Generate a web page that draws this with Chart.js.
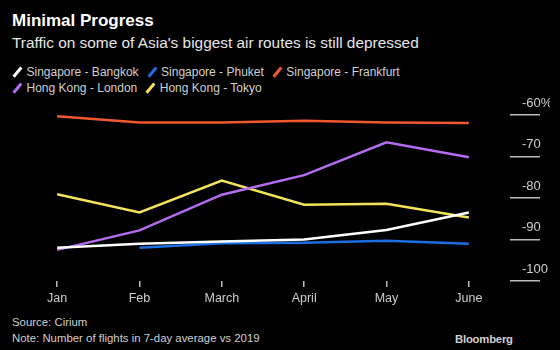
<!DOCTYPE html>
<html>
<head>
<meta charset="utf-8">
<script src="https://cdn.jsdelivr.net/npm/chart.js@4/dist/chart.umd.min.js"></script>
<style>
  html, body { margin: 0; padding: 0; background: #000; }
  body { width: 560px; height: 350px; position: relative; overflow: hidden; font-family: "Liberation Sans", Arial, sans-serif; color: #d0d0d0; }
  .title { position: absolute; left: 12px; top: 11px; font-size: 17px; font-weight: bold; color: #fff; }
  .subtitle { position: absolute; left: 12px; top: 34px; font-size: 15.4px; color: #e6e6e6; }
  .legend { position: absolute; left: 12px; top: 64px; font-size: 12px; line-height: 16px; width: 440px; }
  .legend span.item { display: inline-block; margin-right: 8px; white-space: nowrap; }
  .legend i { display: inline-block; width: 2.5px; height: 12px; margin: 0 8px 0 4px; transform: rotate(40deg); vertical-align: -2px; }
  .source { position: absolute; left: 12px; top: 314px; font-size: 11.4px; line-height: 16px; color: #cfcfcf; }
  .brand { position: absolute; left: 455px; top: 333px; font-size: 11.3px; font-weight: bold; letter-spacing: -0.2px; color: #cfcfcf; }
  #wrap { position: absolute; left: 0; top: 95px; width: 560px; height: 218px; }
</style>
</head>
<body>
<div class="title">Minimal Progress</div>
<div class="subtitle">Traffic on some of Asia's biggest air routes is still depressed</div>
<div class="legend" id="legend"></div>
<div id="wrap"><canvas id="chart"></canvas></div>
<div class="source">Source: Cirium<br>Note: Number of flights in 7-day average vs 2019</div>
<div class="brand">Bloomberg</div>
<script>
const months = ['Jan', 'Feb', 'March', 'April', 'May', 'June'];
const sgBangkok = [-92.0, -91.0, -90.5, -90.0, -87.7, -83.5];
const sgPhuket = [null, -92.0, -90.9, -90.8, -90.3, -91.0];
const sgFrankfurt = [-60.3, -61.8, -61.8, -61.4, -61.8, -61.9];
const hkLondon = [-92.5, -87.8, -79.2, -74.5, -66.6, -70.2];
const hkTokyo = [-79.1, -83.5, -75.8, -81.6, -81.4, -84.7];

const seriesNames = ['Singapore - Bangkok', 'Singapore - Phuket', 'Singapore - Frankfurt', 'Hong Kong - London', 'Hong Kong - Tokyo'];
const seriesColors = ['#ffffff', '#1b6fe0', '#f2582e', '#b46cf0', '#f3e35a'];
const seriesData = [sgBangkok, sgPhuket, sgFrankfurt, hkLondon, hkTokyo];

// legend in html, slash markers like the original
const legend = document.getElementById('legend');
seriesNames.forEach((name, i) => {
    const item = document.createElement('span');
    item.className = 'item';
    item.innerHTML = '<i style="background:' + seriesColors[i] + '"></i>' + name;
    legend.appendChild(item);
    if (i === 2) legend.appendChild(document.createElement('br'));
});

const ctx = document.getElementById('chart').getContext('2d');
new Chart(ctx, {
    type: 'line',
    data: {
        labels: months,
        datasets: seriesData.map((d, i) => ({
            label: seriesNames[i],
            data: d,
            borderColor: seriesColors[i],
            borderWidth: 2.5,
            pointRadius: 0,
            tension: 0,
            fill: false
        }))
    },
    options: {
        responsive: true,
        maintainAspectRatio: false,
        animation: false,
        layout: { padding: { top: 20, left: 16, right: 10, bottom: 0 } },
        plugins: {
            legend: { display: false },
            tooltip: { enabled: false }
        },
        scales: {
            x: {
                offset: true,
                afterFit: scale => { scale.height = 32; },
                grid: { offset: false, drawOnChartArea: false, drawTicks: true, tickLength: 6, color: '#bbb', lineWidth: 1.5 },
                border: { display: false },
                ticks: { color: '#cfcfcf', padding: 4, font: { family: 'Liberation Sans', size: 12.5 }, maxRotation: 0 }
            },
            y: {
                position: 'right',
                min: -100,
                max: -60,
                afterFit: scale => { scale.width = 40; },
                grid: { drawOnChartArea: false, drawTicks: true, tickLength: 30, color: '#bbb', lineWidth: 1.5 },
                border: { display: false },
                ticks: {
                    stepSize: 10,
                    color: '#cfcfcf',
                    crossAlign: 'near',
                    padding: -18,
                    labelOffset: -12,
                    font: { family: 'Liberation Sans', size: 13 },
                    callback: v => v === -60 ? '-60%' : String(v)
                }
            }
        }
    }
});
</script>
</body>
</html>
